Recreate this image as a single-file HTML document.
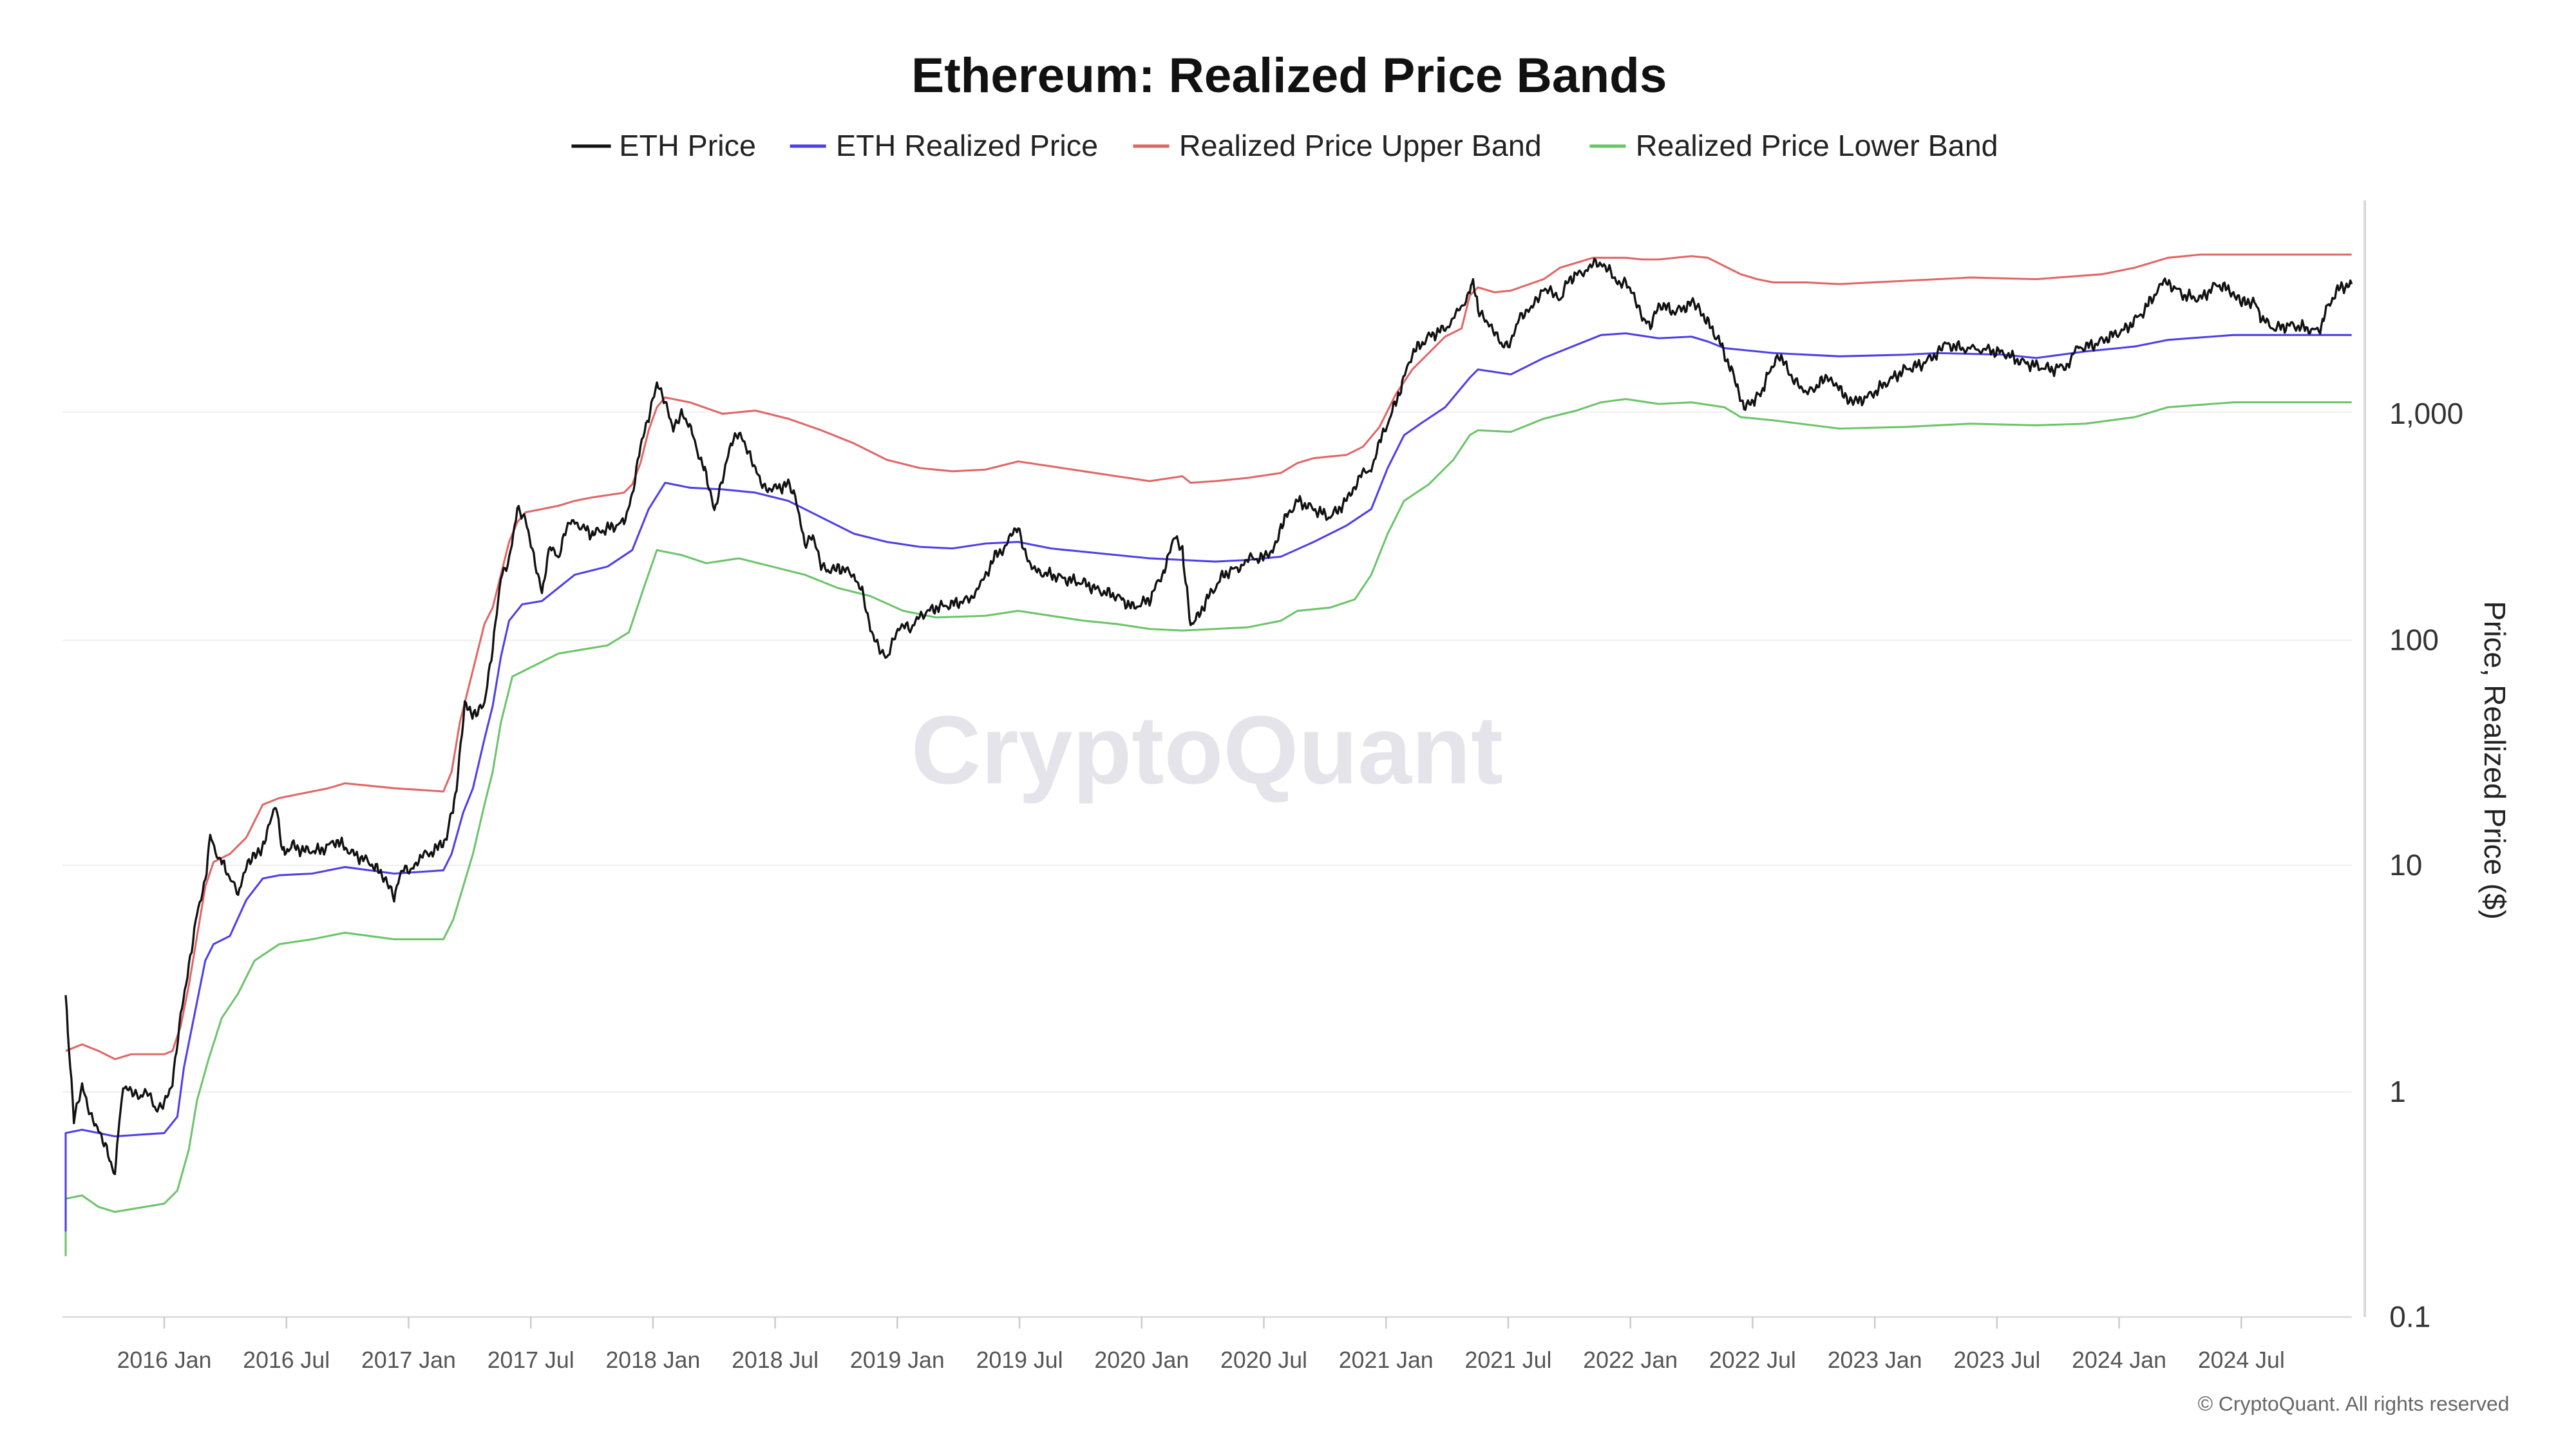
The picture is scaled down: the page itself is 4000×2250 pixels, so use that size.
<!DOCTYPE html>
<html><head><meta charset="utf-8"><style>
html,body{margin:0;padding:0;background:#fff;}
svg{display:block;}
text{font-family:"Liberation Sans",sans-serif;}
</style></head><body>
<svg id="s" width="4000" height="2250" viewBox="0 0 1568.6 882.4" preserveAspectRatio="none" xmlns="http://www.w3.org/2000/svg">
<rect width="1570" height="884" fill="#fff"/>
<text x="785" y="56" text-anchor="middle" font-size="30" font-weight="bold" fill="#111">Ethereum: Realized Price Bands</text>
<g font-size="18.3" fill="#222">
<line x1="348" y1="89" x2="372" y2="89" stroke="#111" stroke-width="2"/><text x="377" y="95">ETH Price</text>
<line x1="481" y1="89" x2="503" y2="89" stroke="#4f3fe8" stroke-width="2"/><text x="509" y="95">ETH Realized Price</text>
<line x1="690" y1="89" x2="712" y2="89" stroke="#e06666" stroke-width="2"/><text x="718" y="95">Realized Price Upper Band</text>
<line x1="968" y1="89" x2="990" y2="89" stroke="#6cc46a" stroke-width="2"/><text x="996" y="95">Realized Price Lower Band</text>
</g>
<g stroke="#efeff2" stroke-width="0.8">
<line x1="38" y1="251" x2="1432" y2="251"/><line x1="38" y1="390" x2="1432" y2="390"/>
<line x1="38" y1="527" x2="1432" y2="527"/><line x1="38" y1="665" x2="1432" y2="665"/>
</g>
<line x1="38" y1="802" x2="1432" y2="802" stroke="#d8d8e0" stroke-width="1"/>
<line x1="1440" y1="122" x2="1440" y2="802" stroke="#d8d8e0" stroke-width="1.5"/>
<text x="735" y="477" text-anchor="middle" font-size="59" font-weight="bold" fill="#e4e4ea">CryptoQuant</text>
<g id="ticks"></g>
<g font-size="18" fill="#333">
<text x="1455" y="258">1,000</text><text x="1455" y="396">100</text><text x="1455" y="533">10</text><text x="1455" y="671">1</text><text x="1455" y="808">0.1</text>
</g>
<text transform="translate(1513,463) rotate(90)" text-anchor="middle" font-size="18" fill="#222">Price, Realized Price ($)</text>
<text x="1528" y="859" text-anchor="end" font-size="12.5" fill="#666">© CryptoQuant. All rights reserved</text>
<g id="series" fill="none" stroke-linejoin="round"></g>
</svg>
<script>
var NS="http://www.w3.org/2000/svg";
function el(t,a,p){var e=document.createElementNS(NS,t);for(var k in a)e.setAttribute(k,a[k]);p.appendChild(e);return e;}
var tk=document.getElementById("ticks");
var labs=["2016 Jan","2016 Jul","2017 Jan","2017 Jul","2018 Jan","2018 Jul","2019 Jan","2019 Jul","2020 Jan","2020 Jul","2021 Jan","2021 Jul","2022 Jan","2022 Jul","2023 Jan","2023 Jul","2024 Jan","2024 Jul"];
for(var i=0;i<labs.length;i++){var x=100+i*74.4;el("line",{x1:x,y1:802,x2:x,y2:809,stroke:"#ccc","stroke-width":1},tk);var t=el("text",{x:x,y:833,"text-anchor":"middle","font-size":14,fill:"#555"},tk);t.textContent=labs[i];}
function P(a){var r=[];for(var i=0;i<a.length;i+=2)r.push([a[i],a[i+1]]);return r;}
var red=P([40,640,50,636,60,640,70,645,80,642,100,642,105,640,110,625,115,600,120,570,125,540,130,525,140,520,150,510,155,500,160,490,170,486,180,484,200,480,210,477,240,480,270,482,275,470,280,440,285,420,290,400,295,380,300,370,305,350,310,330,315,318,320,312,330,310,340,308,350,305,360,303,380,300,385,295,390,282,395,262,400,248,405,242,420,245,440,252,460,250,480,255,500,262,520,270,540,280,560,285,580,287,600,286,620,281,640,284,660,287,680,290,700,293,720,290,725,294,740,293,760,291,780,288,790,282,800,279,820,277,830,272,840,260,850,240,860,225,870,215,880,205,890,200,895,180,900,175,910,178,920,177,940,170,950,163,960,160,970,157,990,157,1000,158,1010,158,1030,156,1040,157,1050,162,1060,167,1070,170,1080,172,1100,172,1120,173,1140,172,1180,170,1200,169,1240,170,1280,167,1300,163,1320,157,1340,155,1380,155,1432,155]);
var blue=P([40,750,40,690,50,688,70,692,100,690,108,680,112,650,118,620,125,585,130,575,140,570,150,548,160,535,170,533,190,532,210,528,240,532,270,530,275,520,282,495,288,480,295,450,300,430,305,400,310,378,318,368,330,366,350,350,370,345,385,335,395,310,405,294,420,297,440,298,460,300,480,305,500,315,520,325,540,330,560,333,580,334,600,331,620,330,640,334,660,336,680,338,700,340,720,341,740,342,760,341,780,339,800,330,820,320,835,310,845,285,855,265,865,258,880,248,895,230,900,225,920,228,940,218,960,210,975,204,990,203,1010,206,1030,205,1040,208,1050,212,1060,213,1080,215,1120,217,1160,216,1180,215,1220,216,1240,218,1270,214,1300,211,1320,207,1360,204,1432,204]);
var green=P([40,765,40,730,50,728,60,735,70,738,100,733,108,725,115,700,120,670,127,645,135,620,145,605,155,585,170,575,190,572,210,568,240,572,270,572,276,560,282,540,288,520,295,490,300,470,305,440,312,412,320,408,340,398,370,393,383,385,392,358,400,335,415,338,430,343,450,340,470,345,490,350,510,358,530,363,550,372,570,376,600,375,620,372,640,375,660,378,680,380,700,383,720,384,740,383,760,382,780,378,790,372,810,370,825,365,835,350,845,325,855,305,870,295,885,280,895,265,900,262,920,263,940,255,960,250,975,245,990,243,1010,246,1030,245,1050,248,1060,254,1080,256,1120,261,1160,260,1200,258,1240,259,1270,258,1300,254,1320,248,1360,245,1432,245]);
var blk=P([40,605,42,640,45,680,50,660,55,680,60,690,65,700,70,715,72,690,75,660,80,665,85,670,90,665,95,675,100,670,105,660,110,620,115,590,120,555,125,535,128,510,132,520,138,530,145,545,150,525,158,520,165,500,168,488,172,520,178,515,185,518,195,518,205,512,215,520,225,525,235,535,240,548,245,530,250,530,255,522,265,518,272,510,278,480,283,430,290,435,295,430,300,395,305,350,310,340,315,310,320,318,325,340,330,360,335,330,340,340,345,322,350,318,360,325,370,322,380,318,385,300,390,270,395,255,400,235,405,245,410,260,415,250,420,260,430,290,435,310,440,290,445,270,450,265,455,275,460,285,465,295,470,298,480,295,485,305,490,330,495,325,500,345,505,350,510,345,520,350,525,360,530,385,535,395,540,400,545,385,550,380,555,385,560,375,570,370,580,368,590,365,598,355,605,340,612,333,620,320,625,338,630,348,640,350,650,353,660,355,670,360,680,363,690,370,700,365,710,345,715,328,720,335,722,355,725,380,728,378,735,365,745,350,755,345,760,340,770,340,775,335,780,320,790,305,800,310,810,315,820,305,828,290,835,285,840,270,850,245,860,215,870,205,880,200,888,190,895,178,897,170,900,190,905,195,910,200,915,210,920,210,925,195,930,190,935,182,940,175,945,178,950,185,955,170,965,165,970,160,975,163,980,165,985,172,990,170,995,180,1000,195,1005,200,1010,185,1020,190,1030,185,1035,188,1042,200,1048,210,1052,220,1058,235,1062,250,1066,245,1072,240,1078,225,1083,215,1090,228,1095,232,1100,240,1110,232,1115,230,1122,240,1130,245,1140,240,1150,232,1160,225,1170,222,1180,215,1185,210,1195,212,1210,213,1220,215,1230,220,1240,223,1250,225,1260,222,1265,212,1275,210,1285,205,1295,200,1305,190,1315,175,1320,172,1330,180,1340,182,1350,173,1360,178,1365,185,1372,183,1378,195,1385,200,1395,198,1405,200,1412,202,1418,185,1425,175,1432,173]);
function str(a){return a.map(function(p){return p[0].toFixed(1)+","+p[1].toFixed(1)}).join(" ");}
function jitter(a){var r=[];for(var i=0;i<a.length-1;i++){var p=a[i],q=a[i+1];var n=Math.max(1,Math.round((q[0]-p[0])/0.8));for(var j=0;j<n;j++){var t=j/n,x=p[0]+(q[0]-p[0])*t,y=p[1]+(q[1]-p[1])*t;var z=Math.sin(x*7.3)*1.6+Math.sin(x*2.1+1)*1.8+Math.sin(x*13.7)*1.1;r.push([x,y+z]);}}r.push(a[a.length-1]);return r;}
var g=document.getElementById("series");
el("polyline",{points:str(green),stroke:"#6cc46a","stroke-width":1.2},g);
el("polyline",{points:str(red),stroke:"#e06666","stroke-width":1.2},g);
el("polyline",{points:str(blue),stroke:"#4f3fe8","stroke-width":1.2},g);
el("polyline",{points:str(jitter(blk)),stroke:"#111","stroke-width":1.3},g);
</script>
</body></html>
